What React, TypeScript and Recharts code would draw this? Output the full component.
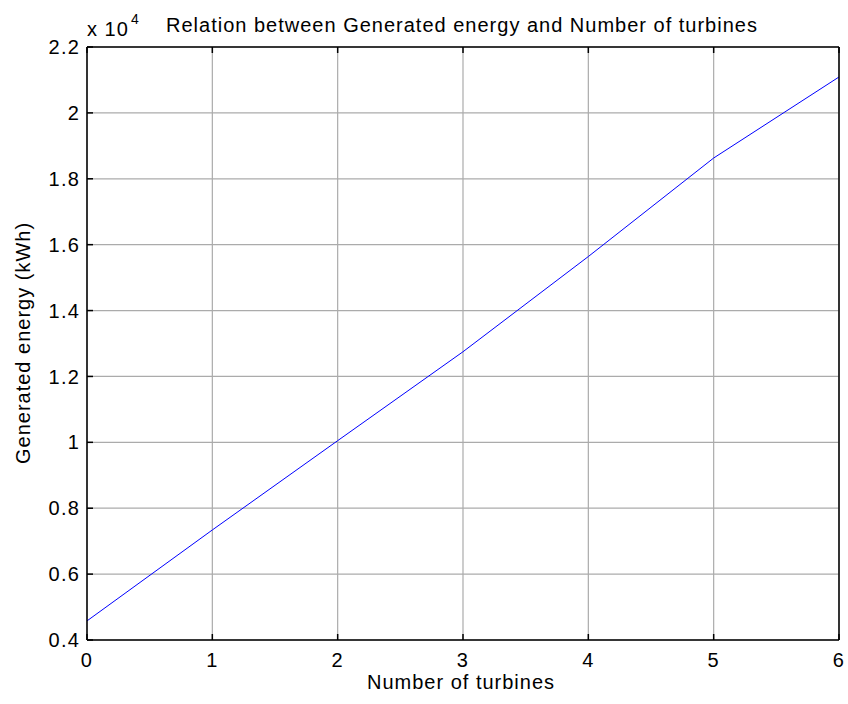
import React from 'react';
import { CartesianGrid, Line, LineChart, XAxis, YAxis } from 'recharts';

// generated energy (kWh) per number of turbines
const turbines = [0, 1, 2, 3, 4, 5, 6];
const energy = [4580, 7340, 10050, 12750, 15640, 18630, 21090];

const xTicks = [0, 1, 2, 3, 4, 5, 6];
const yTicks = [4000, 6000, 8000, 10000, 12000, 14000, 16000, 18000, 20000, 22000];

const FONT = '"Liberation Sans", Arial, Helvetica, sans-serif';
const tickStyle = { fontSize: 20, fill: '#000', letterSpacing: 1.2 };

const fmtY = (v: number) => String(Number((v / 10000).toFixed(1)));

const App = () => {
    const data = turbines.map((t, i) => ({ turbines: t, energy: energy[i] }));

    return (
        <div style={{ position: 'absolute', left: 0, top: 0, width: 848, height: 704, background: '#fff' }}>
            <LineChart
                width={848}
                height={704}
                data={data}
                margin={{ top: 46, right: 8, bottom: 34, left: 0 }}
                style={{ fontFamily: FONT }}
            >
                <CartesianGrid stroke="#ababab" strokeWidth={1.2} />
                <XAxis
                    dataKey="turbines"
                    type="number"
                    domain={[0, 6]}
                    ticks={xTicks}
                    height={30}
                    stroke="#000"
                    strokeWidth={1.5}
                    tickSize={-6}
                    tickMargin={19}
                    tick={tickStyle}
                    interval={0}
                />
                <XAxis
                    xAxisId="top"
                    orientation="top"
                    dataKey="turbines"
                    type="number"
                    domain={[0, 6]}
                    ticks={xTicks}
                    height={1}
                    stroke="#000"
                    strokeWidth={1.5}
                    tickSize={-6}
                    tickFormatter={() => ''}
                />
                <YAxis
                    type="number"
                    domain={[4000, 22000]}
                    ticks={yTicks}
                    width={87}
                    stroke="#000"
                    strokeWidth={1.5}
                    tickSize={-6}
                    tickMargin={13}
                    tick={tickStyle}
                    tickFormatter={fmtY}
                    interval={0}
                />
                <YAxis
                    yAxisId="right"
                    orientation="right"
                    type="number"
                    domain={[4000, 22000]}
                    ticks={yTicks}
                    width={1}
                    stroke="#000"
                    strokeWidth={1.5}
                    tickSize={-6}
                    tickFormatter={() => ''}
                />
                <Line
                    type="linear"
                    dataKey="energy"
                    stroke="#0000ff"
                    strokeWidth={1}
                    dot={false}
                    isAnimationActive={false}
                />
                <text x={462} y={32} textAnchor="middle" fontSize={20} letterSpacing={1} fill="#000">
                    Relation between Generated energy and Number of turbines
                </text>
                <text x={87} y={36} fontSize={20} letterSpacing={1} fill="#000">
                    x 10
                </text>
                <text x={131} y={24} fontSize={14} fill="#000">
                    4
                </text>
                <text x={461} y={689} textAnchor="middle" fontSize={20} letterSpacing={1} fill="#000">
                    Number of turbines
                </text>
                <text
                    x={30}
                    y={343}
                    textAnchor="middle"
                    fontSize={20}
                    letterSpacing={1}
                    fill="#000"
                    transform="rotate(-90 30 343)"
                >
                    Generated energy  (kWh)
                </text>
            </LineChart>
        </div>
    );
};

export default App;
